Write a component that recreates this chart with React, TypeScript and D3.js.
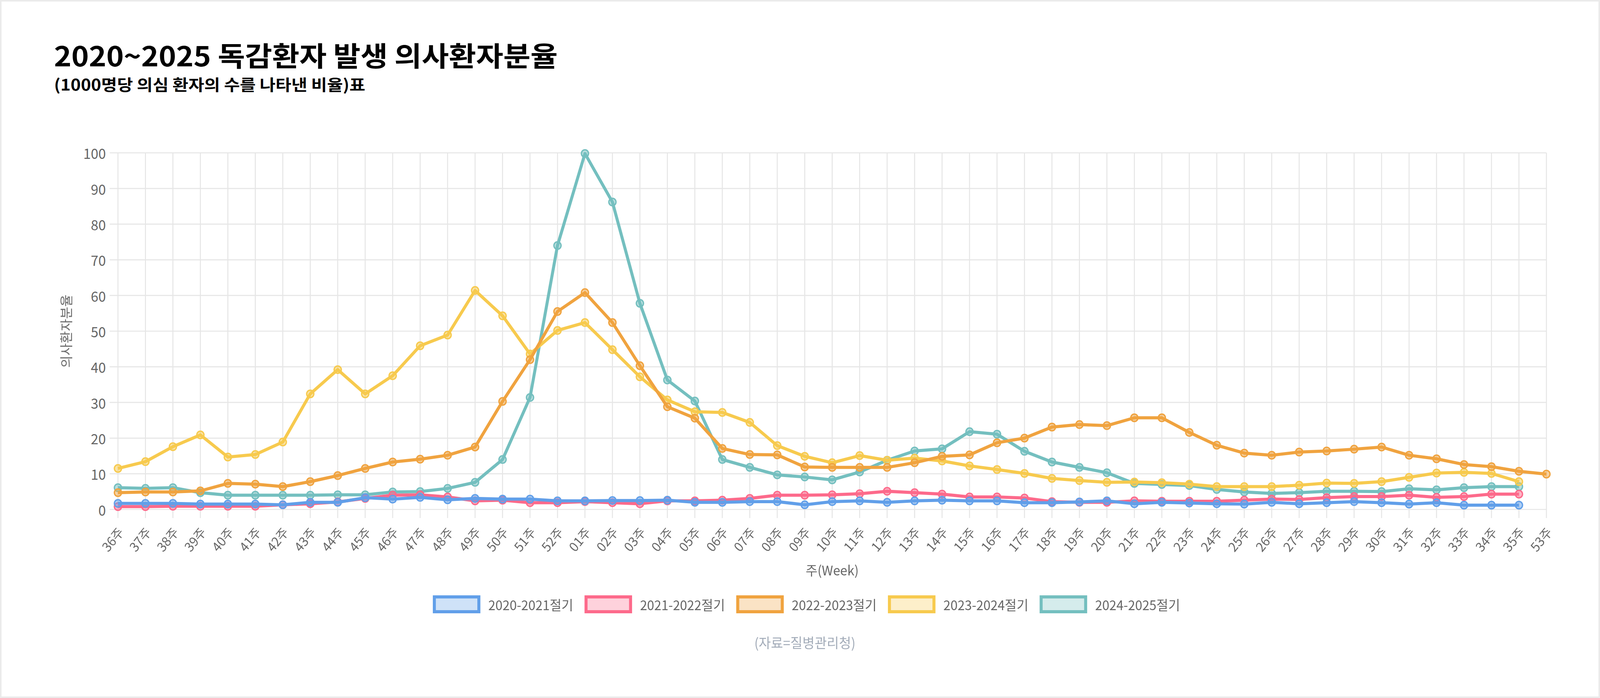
import { line, scaleLinear, scalePoint } from 'd3';

const weeks = [
  '36주', '37주', '38주', '39주', '40주', '41주', '42주', '43주', '44주', '45주', '46주', '47주', '48주',
  '49주', '50주', '51주', '52주', '01주', '02주', '03주', '04주', '05주', '06주', '07주', '08주', '09주',
  '10주', '11주', '12주', '13주', '14주', '15주', '16주', '17주', '18주', '19주', '20주', '21주', '22주',
  '23주', '24주', '25주', '26주', '27주', '28주', '29주', '30주', '31주', '32주', '33주', '34주', '35주', '53주',
];

const seasons = ['2020-2021절기', '2021-2022절기', '2022-2023절기', '2023-2024절기', '2024-2025절기'];

const season2020: (number | null)[] = [
  1.7, 1.7, 1.7, 1.5, 1.5, 1.5, 1.3, 2.0, 2.0, 3.3, 2.9, 3.4, 2.7,
  3.1, 2.9, 2.9, 2.4, 2.4, 2.5, 2.5, 2.6, 2.0, 2.0, 2.2, 2.2, 1.3,
  2.2, 2.4, 2.0, 2.4, 2.6, 2.4, 2.4, 1.9, 1.9, 2.1, 2.4, 1.6, 2.0,
  1.8, 1.6, 1.5, 2.0, 1.6, 1.9, 2.2, 1.9, 1.5, 1.9, 1.2, 1.2, 1.2, null,
];
const season2021: (number | null)[] = [
  0.8, 0.8, 0.9, 0.9, 0.9, 0.9, 1.3, 1.6, 2.1, 3.1, 4.0, 4.1, 3.5,
  2.4, 2.6, 1.9, 1.9, 2.2, 1.9, 1.6, 2.4, 2.4, 2.6, 3.1, 4.0, 4.0,
  4.1, 4.4, 5.1, 4.7, 4.3, 3.5, 3.5, 3.2, 2.2, 2.0, 2.0, 2.4, 2.3,
  2.3, 2.3, 2.6, 2.9, 2.8, 3.3, 3.6, 3.6, 4.0, 3.4, 3.6, 4.3, 4.3, null,
];
const season2022: (number | null)[] = [
  4.7, 4.9, 4.9, 5.2, 7.3, 7.1, 6.4, 7.8, 9.5, 11.5, 13.3, 14.1, 15.2,
  17.5, 30.3, 42.0, 55.5, 60.8, 52.4, 40.3, 28.8, 25.6, 17.1, 15.4, 15.3, 11.9,
  11.8, 11.8, 11.8, 13.1, 14.9, 15.3, 18.7, 20.0, 23.1, 23.8, 23.5, 25.7, 25.7,
  21.6, 18.0, 15.8, 15.2, 16.1, 16.4, 16.9, 17.5, 15.2, 14.2, 12.6, 12.0, 10.7, 9.9,
];
const season2023: (number | null)[] = [
  11.5, 13.4, 17.6, 20.9, 14.7, 15.4, 18.9, 32.4, 39.2, 32.4, 37.5, 45.9, 48.9,
  61.4, 54.3, 43.6, 50.2, 52.4, 44.8, 37.2, 30.7, 27.4, 27.2, 24.4, 17.9, 14.9,
  13.1, 15.1, 13.8, 14.4, 13.6, 12.2, 11.2, 10.1, 8.7, 8.1, 7.6, 7.7, 7.5,
  7.1, 6.4, 6.4, 6.4, 6.8, 7.4, 7.3, 7.8, 9.0, 10.2, 10.4, 10.1, 7.8, null,
];
const season2024: (number | null)[] = [
  6.1, 5.9, 6.1, 4.7, 4.0, 4.0, 4.0, 4.0, 4.1, 4.1, 4.9, 5.0, 5.9,
  7.6, 14.0, 31.4, 74.0, 99.8, 86.2, 57.8, 36.3, 30.4, 14.0, 11.8, 9.7, 9.1,
  8.3, 10.5, 13.8, 16.4, 17.0, 21.8, 21.1, 16.3, 13.3, 11.8, 10.3, 7.3, 7.0,
  6.7, 5.6, 4.9, 4.5, 4.7, 5.1, 5.1, 5.0, 5.8, 5.5, 6.1, 6.4, 6.4, null,
];

const yTicks = [0, 10, 20, 30, 40, 50, 60, 70, 80, 90, 100];

const seriesValues = [season2020, season2021, season2022, season2023, season2024];
const seriesColors = ['#619fe9', '#fd6a8b', '#f0a33f', '#f7ca4e', '#74bfbf'];

const W = 4240;
const H = 1788;
const FONT = "'Noto Sans CJK KR', 'Noto Sans', sans-serif";
const TEXT = '#666666';
const GRID = '#e6e6e6';

const plot = { left: 312.6, right: 4098, top: 391.5, bottom: 1305 };
const tickLen = 22;

export default function App() {
  const x = scalePoint<string>().domain(weeks).range([plot.left, plot.right]);
  const y = scaleLinear().domain([0, 100]).range([plot.bottom, plot.top]);

  const path = line<number | null>()
    .defined((d) => d != null)
    .x((_, i) => x(weeks[i]) as number)
    .y((d) => y(d as number));

  const legendPitch = 402;
  const legendStart = 2139 - (legendPitch * seasons.length - 26) / 2;
  const legendY = 1548;

  return (
    <svg
      viewBox={`0 0 ${W} ${H}`}
      preserveAspectRatio="none"
      style={{
        position: 'fixed',
        left: 0,
        top: 0,
        width: '100vw',
        height: '100vh',
        fontFamily: FONT,
      }}
    >
      <rect x={0} y={0} width={W} height={H} fill="#ebebeb" />
      <rect x={4} y={4} width={W - 8} height={H - 8} fill="#ffffff" />

      <text
        x={143}
        y={170}
        fontSize={70}
        fontWeight={700}
        fill="#000"
        textLength={1335}
        lengthAdjust="spacingAndGlyphs"
      >
        2020~2025 독감환자 발생 의사환자분율
      </text>
      <text
        x={143}
        y={232}
        fontSize={40}
        fontWeight={700}
        fill="#000"
        textLength={825}
        lengthAdjust="spacingAndGlyphs"
      >
        (1000명당 의심 환자의 수를 나타낸 비율)표
      </text>

      {/* grid */}
      <g stroke={GRID} strokeWidth={2.7}>
        {yTicks.map((t) => (
          <line key={`gy-${t}`} x1={plot.left - tickLen} x2={plot.right} y1={y(t)} y2={y(t)} />
        ))}
        {weeks.map((w) => (
          <line key={`gx-${w}`} x1={x(w)} x2={x(w)} y1={plot.top} y2={plot.bottom + tickLen} />
        ))}
      </g>

      {/* y axis */}
      <g fontSize={36} fill={TEXT} textAnchor="end">
        {yTicks.map((t) => (
          <text key={`yt-${t}`} x={plot.left - tickLen - 10} y={y(t)} dominantBaseline="central">
            {t}
          </text>
        ))}
      </g>
      <text
        transform={`translate(174, ${(plot.top + plot.bottom) / 2}) rotate(-90)`}
        textAnchor="middle"
        dominantBaseline="central"
        fontSize={34}
        fill={TEXT}
      >
        의사환자분율
      </text>

      {/* x axis */}
      <g fontSize={33} fill={TEXT} textAnchor="end">
        {weeks.map((w) => (
          <text
            key={`xt-${w}`}
            transform={`translate(${(x(w) as number) + 6}, ${plot.bottom + tickLen + 28}) rotate(-50)`}
            dominantBaseline="central"
          >
            {w}
          </text>
        ))}
      </g>
      <text
        x={(plot.left + plot.right) / 2}
        y={1474}
        textAnchor="middle"
        fontSize={34}
        fill={TEXT}
      >
        주(Week)
      </text>

      {/* series, first dataset drawn on top */}
      {seriesValues
        .map((vals, si) => ({ vals, si }))
        .reverse()
        .map(({ vals, si }) => (
          <g key={`s-${si}`}>
            <path
              d={path(vals) ?? ''}
              fill="none"
              stroke={seriesColors[si]}
              strokeWidth={8}
              strokeLinejoin="round"
            />
            {vals.map((v, i) =>
              v == null ? null : (
                <circle
                  key={`p-${si}-${i}`}
                  cx={x(weeks[i])}
                  cy={y(v)}
                  r={9.5}
                  fill={seriesColors[si]}
                  fillOpacity={0.5}
                  stroke={seriesColors[si]}
                  strokeWidth={3.5}
                />
              ),
            )}
          </g>
        ))}

      {/* legend */}
      <g>
        {seasons.map((s, i) => {
          const lx = legendStart + i * legendPitch;
          return (
            <g key={`lg-${s}`}>
              <rect
                x={lx + 4}
                y={legendY - 19}
                width={118}
                height={38}
                fill={seriesColors[i]}
                fillOpacity={0.3}
                stroke={seriesColors[i]}
                strokeWidth={8}
              />
              <text
                x={lx + 147}
                y={legendY}
                dominantBaseline="central"
                fontSize={34}
                fill={TEXT}
              >
                {s}
              </text>
            </g>
          );
        })}
      </g>

      <text x={2133} y={1660} textAnchor="middle" fontSize={35} fill="#a3acb9">
        (자료=질병관리청)
      </text>
    </svg>
  );
}
